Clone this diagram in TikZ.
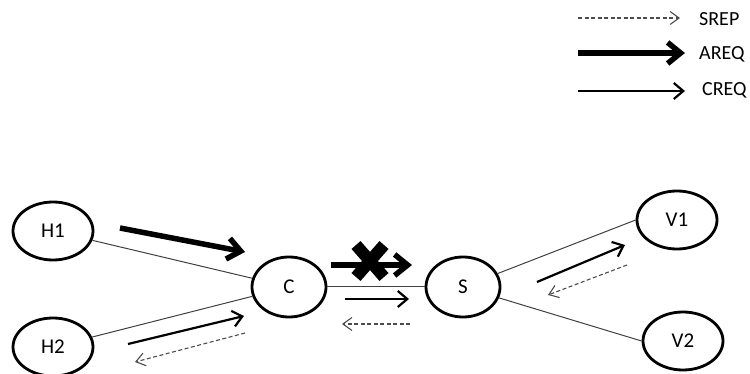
\documentclass[tikz,border=0pt]{standalone}
\usepackage{fontspec}
\setmainfont{Carlito}
\usetikzlibrary{arrows.meta,shapes.geometric,calc}
\begin{document}
\begin{tikzpicture}[x=1pt,y=-1pt,
  station/.style={ellipse,draw=black,line width=2.8pt,minimum width=80pt,minimum height=58pt,inner sep=0pt,font=\fontsize{21}{23}\selectfont},
  link/.style={draw=black!75,line width=1pt},
  srep/.style={draw=black!70,line width=1.1pt,dash pattern=on 4pt off 2.5pt,-{Straight Barb[length=9pt,width=13pt]}},
  creq/.style={draw=black,line width=2.2pt,-{Straight Barb[length=9.5pt,width=16pt]}},
  areq/.style={draw=black,line width=5.5pt,-{Straight Barb[length=13pt,width=21pt]}},
  legend/.style={anchor=west,inner sep=0pt,font=\fontsize{20}{22}\selectfont}]
\path[use as bounding box] (0,0) rectangle (750,374);

% stations
\node[station] (H1) at (53,231) {H1};
\node[station] (H2) at (53,347) {H2};
\node[station,minimum width=74pt,minimum height=60pt] (C) at (289,287) {C};
\node[station,minimum width=74pt,minimum height=60pt] (S) at (463,287) {S};
\node[station] (V1) at (677,220) {V1};
\node[station] (V2) at (683,341) {V2};

% links
\draw[link] (H1) -- (C);
\draw[link] (H2) -- (C);
\draw[link] (C) -- (S);
\draw[link] (S) -- (V1.west);
\draw[link] (S) -- (V2.west);

% message flows along the links
\coordinate (a1s) at (120,228); \coordinate (a1e) at (245,252);
\draw[areq] (a1s) -- (a1e);
\coordinate (c1s) at (128,344); \coordinate (c1e) at (244,316);
\draw[creq] (c1s) -- (c1e);
\coordinate (r1s) at (245,333); \coordinate (r1e) at (135,362);
\draw[srep] (r1s) -- (r1e);

\coordinate (a2s) at (331,265); \coordinate (a2e) at (412,265);
\draw[areq] (a2s) -- (a2e);
% blocked request
\coordinate (x0) at (370,261);
\draw[line width=12pt] ($(x0)+(-14,-16)$) -- ($(x0)+(14,16)$);
\draw[line width=12pt] ($(x0)+(14,-16)$) -- ($(x0)+(-14,16)$);
\coordinate (c2s) at (345,299); \coordinate (c2e) at (409,299);
\draw[creq] (c2s) -- (c2e);
\coordinate (r2s) at (410,324); \coordinate (r2e) at (342,324);
\draw[srep] (r2s) -- (r2e);

\coordinate (c3s) at (537,282); \coordinate (c3e) at (625,245);
\draw[creq] (c3s) -- (c3e);
\coordinate (r3s) at (627,265); \coordinate (r3e) at (548,295);
\draw[srep] (r3s) -- (r3e);

% legend
\coordinate (l1s) at (578,18); \coordinate (l1e) at (680,18);
\draw[srep] (l1s) -- (l1e);
\node[legend] (t1) at (699,19) {SREP};
\coordinate (l2s) at (578,53); \coordinate (l2e) at (685,53);
\draw[areq] (l2s) -- (l2e);
\node[legend] (t2) at (699,54) {AREQ};
\coordinate (l3s) at (578,91); \coordinate (l3e) at (685,91);
\draw[creq] (l3s) -- (l3e);
\node[legend] (t3) at (702,90) {CREQ};
\end{tikzpicture}
\end{document}
